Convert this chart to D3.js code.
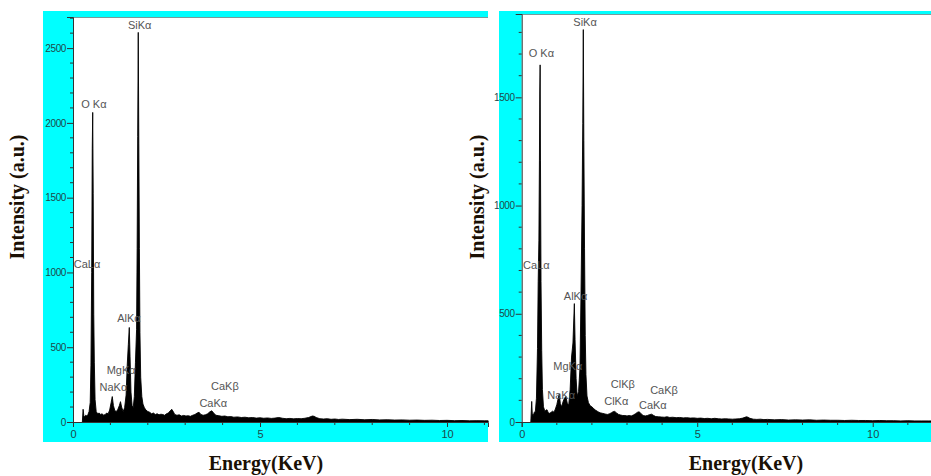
<!DOCTYPE html>
<html><head><meta charset="utf-8">
<script src="https://cdn.jsdelivr.net/npm/d3@7"></script>
<style>
html,body{margin:0;padding:0;background:#fff;}
svg{display:block;}
</style>
</head><body>
<svg id="chart" width="931" height="476"></svg>
<script>
// ---------- DATA ----------
// Left spectrum: energy (keV) and counts
const energyLeft = [0.25,0.27,0.29,0.31,0.34,0.37,0.40,0.43,0.46,0.48,0.50,0.515,0.527,0.54,0.555,0.57,0.59,0.62,0.66,0.70,0.74,0.78,0.82,0.86,0.90,0.94,0.98,1.02,1.05,1.08,1.12,1.16,1.20,1.24,1.27,1.30,1.34,1.38,1.42,1.45,1.48,1.505,1.525,1.55,1.58,1.61,1.64,1.67,1.70,1.715,1.73,1.745,1.76,1.775,1.79,1.81,1.84,1.87,1.91,1.95,2.00,2.05,2.10,2.15,2.20,2.25,2.30,2.35,2.40,2.45,2.50,2.55,2.60,2.64,2.68,2.72,2.78,2.84,2.90,2.96,3.02,3.08,3.14,3.20,3.26,3.32,3.37,3.42,3.48,3.54,3.60,3.66,3.71,3.76,3.82,3.90,3.98,4.06,4.14,4.22,4.30,4.40,4.50,4.60,4.70,4.80,4.90,5.00,5.10,5.20,5.30,5.40,5.50,5.60,5.70,5.80,5.90,6.00,6.10,6.20,6.30,6.40,6.45,6.50,6.60,6.70,6.80,6.90,7.00,7.10,7.20,7.40,7.60,7.80,8.00,8.20,8.40,8.60,8.80,9.00,9.20,9.40,9.60,9.80,10.00,10.20,10.40,10.60,10.80,11.00,11.10];
const countsLeft = [0,85,40,35,45,40,50,70,130,380,1000,1830,2070,1530,720,400,150,70,55,60,50,55,45,50,60,55,80,130,170,110,75,70,85,110,136,100,70,95,180,380,520,632,440,200,110,95,170,400,620,1160,1910,2605,1860,1160,600,300,170,120,95,80,70,65,55,60,50,55,48,52,50,45,55,60,75,85,70,50,45,48,40,44,40,42,38,45,50,60,65,50,45,48,55,68,75,60,45,42,38,40,35,36,32,34,30,32,28,30,26,28,25,27,24,26,30,25,22,24,21,23,22,25,30,40,38,30,22,20,22,18,20,17,19,16,18,15,17,14,15,13,14,12,13,11,12,10,11,9,10,8,9,8,8];

// Right spectrum
const energyRight = [0.26,0.285,0.30,0.33,0.36,0.39,0.42,0.45,0.47,0.49,0.505,0.515,0.525,0.535,0.55,0.57,0.59,0.62,0.66,0.70,0.72,0.76,0.80,0.84,0.88,0.92,0.96,1.00,1.04,1.07,1.10,1.14,1.18,1.22,1.26,1.30,1.34,1.38,1.42,1.46,1.50,1.52,1.55,1.58,1.62,1.66,1.69,1.72,1.74,1.755,1.77,1.79,1.81,1.83,1.86,1.90,1.95,2.00,2.05,2.10,2.15,2.20,2.25,2.30,2.35,2.40,2.45,2.50,2.55,2.60,2.65,2.70,2.76,2.82,2.88,2.94,3.00,3.06,3.12,3.18,3.24,3.30,3.35,3.40,3.46,3.52,3.58,3.64,3.70,3.76,3.82,3.90,3.98,4.06,4.14,4.22,4.30,4.40,4.50,4.60,4.70,4.80,4.90,5.00,5.10,5.20,5.30,5.40,5.50,5.60,5.70,5.80,5.90,6.00,6.10,6.20,6.30,6.40,6.45,6.50,6.60,6.70,6.80,6.90,7.00,7.20,7.40,7.60,7.80,8.00,8.20,8.40,8.60,8.80,9.00,9.20,9.40,9.60,9.80,10.00,10.20,10.40,10.60,10.80,11.00,11.20,11.40,11.60,11.70];
const countsRight = [0,95,40,30,45,50,110,340,650,840,1210,1520,1650,1210,650,330,150,70,50,55,57,42,40,45,50,45,60,80,110,129,85,70,95,110,118,85,80,150,300,365,547,380,200,120,140,250,600,1000,1380,1813,1300,800,400,220,120,90,75,70,62,55,50,45,42,40,38,36,35,38,42,47,49,42,35,32,30,30,28,30,28,32,38,45,47,38,30,28,30,34,36,30,25,24,23,22,24,21,22,20,21,19,20,18,19,17,18,16,17,15,17,15,14,15,14,13,14,15,18,24,22,17,13,12,13,11,12,10,11,9,10,9,10,8,9,8,8,7,8,7,7,6,7,6,6,5,6,5,5,5,5];

// Peak labels: text, energy of label start, count level of label baseline
const labelsLeft = [
  {t:"SiKα", e:1.47, c:2625},
  {t:"O Kα", e:0.22, c:2100},
  {t:"CaLα", e:0.02, c:1030},
  {t:"AlKα", e:1.18, c:670},
  {t:"MgKα", e:0.90, c:320},
  {t:"NaKα", e:0.71, c:210},
  {t:"CaKβ", e:3.69, c:215},
  {t:"CaKα", e:3.38, c:100}
];
const labelsRight = [
  {t:"SiKα", e:1.47, c:1830},
  {t:"O Kα", e:0.20, c:1685},
  {t:"CaLα", e:0.04, c:705},
  {t:"AlKα", e:1.20, c:565},
  {t:"MgKα", e:0.90, c:240},
  {t:"NaKα", e:0.73, c:105},
  {t:"ClKβ", e:2.54, c:155},
  {t:"ClKα", e:2.35, c:80},
  {t:"CaKβ", e:3.66, c:130},
  {t:"CaKα", e:3.34, c:58}
];

const yMajorLeft = [0,500,1000,1500,2000,2500];
const yMajorRight = [0,500,1000,1500];
const xMajor = [0,5,10];

// ---------- DRAW ----------
const svg = d3.select("#chart");
const CYAN = "#00ffff";

function panel(cfg){
  const g = svg.append("g");
  g.append("rect").attr("x",cfg.bx).attr("y",cfg.by).attr("width",cfg.bw).attr("height",cfg.bh).attr("fill",CYAN);
  g.append("rect").attr("x",cfg.px0).attr("y",cfg.py0).attr("width",cfg.px1-cfg.px0).attr("height",cfg.py1-cfg.py0).attr("fill","#fff");
  g.append("line").attr("x1",cfg.px0).attr("x2",cfg.px1).attr("y1",cfg.py0+0.5).attr("y2",cfg.py0+0.5).attr("stroke","#7a9a9a").attr("stroke-width",1.2);

  const x = d3.scaleLinear().domain([0,cfg.xmax]).range([cfg.px0,cfg.px1]);
  const y = d3.scaleLinear().domain([0,cfg.ymax]).range([cfg.py1,cfg.py0]);

  const pts = cfg.E.map((e,i)=>[e,cfg.C[i]]);
  const area = d3.area().x(d=>x(d[0])).y0(y(0)).y1(d=>y(d[1]));
  g.append("path").datum(pts).attr("d",area).attr("fill","#000").attr("stroke","#000").attr("stroke-width",0.9);

  const yAxis = d3.axisLeft(y).tickValues(cfg.yMajor).tickSize(6).tickPadding(1).tickFormat(d3.format("d"));
  const ya = g.append("g").attr("transform",`translate(${cfg.px0},0)`).call(yAxis);
  ya.select(".domain").attr("stroke","#333");
  ya.selectAll(".tick line").attr("stroke","#333");
  ya.selectAll("text").attr("font-family","Arial, 'Liberation Sans', sans-serif").attr("font-size",10).attr("fill","#1f4a4a").attr("letter-spacing","-0.4px");
  const yMinor = d3.range(0, cfg.ymax, 100).filter(v=>v%500!==0);
  g.append("g").selectAll("line").data(yMinor).join("line")
    .attr("x1",cfg.px0-3).attr("x2",cfg.px0).attr("y1",d=>y(d)).attr("y2",d=>y(d)).attr("stroke","#333");

  const xAxis = d3.axisBottom(x).tickValues(xMajor).tickSize(5).tickPadding(3);
  const xa = g.append("g").attr("transform",`translate(0,${cfg.py1})`).call(xAxis);
  xa.select(".domain").attr("stroke","#333");
  xa.selectAll(".tick line").attr("stroke","#333");
  xa.selectAll("text").attr("font-family","Arial, 'Liberation Sans', sans-serif").attr("font-size",11).attr("fill","#1f4a4a");
  const xMinor = d3.range(1, cfg.xmax, 1).filter(v=>v%5!==0);
  g.append("g").selectAll("line").data(xMinor).join("line")
    .attr("x1",d=>x(d)).attr("x2",d=>x(d)).attr("y1",cfg.py1).attr("y2",cfg.py1+3).attr("stroke","#333");

  g.append("g").selectAll("text").data(cfg.labels).join("text")
    .attr("x",d=>x(d.e)).attr("y",d=>y(d.c))
    .attr("font-family","Arial, 'Liberation Sans', sans-serif").attr("font-size",11).attr("fill","#555")
    .text(d=>d.t);

  g.append("text").attr("transform",`translate(${cfg.ytx},${cfg.yty}) rotate(-90)`)
    .attr("text-anchor","middle").attr("font-family","'Liberation Serif','Times New Roman',serif")
    .attr("font-weight","bold").attr("font-size",20).attr("fill","#1a1005").text("Intensity (a.u.)");
  g.append("text").attr("x",cfg.xtx).attr("y",cfg.xty)
    .attr("text-anchor","middle").attr("font-family","'Liberation Serif','Times New Roman',serif")
    .attr("font-weight","bold").attr("font-size",20).attr("fill","#1a1005").text("Energy(KeV)");
}

panel({bx:43,by:11,bw:445,bh:431,px0:73,px1:488,py0:17,py1:422,xmax:11.096,ymax:2708,
  E:energyLeft,C:countsLeft,labels:labelsLeft,yMajor:yMajorLeft,ytx:24,yty:197,xtx:266,xty:470});
panel({bx:499,by:11,bw:432,bh:431,px0:521.7,px1:931,py0:14,py1:422,xmax:11.66,ymax:1885,
  E:energyRight,C:countsRight,labels:labelsRight,yMajor:yMajorRight,ytx:484,yty:197,xtx:746,xty:470});
</script>
</body></html>
